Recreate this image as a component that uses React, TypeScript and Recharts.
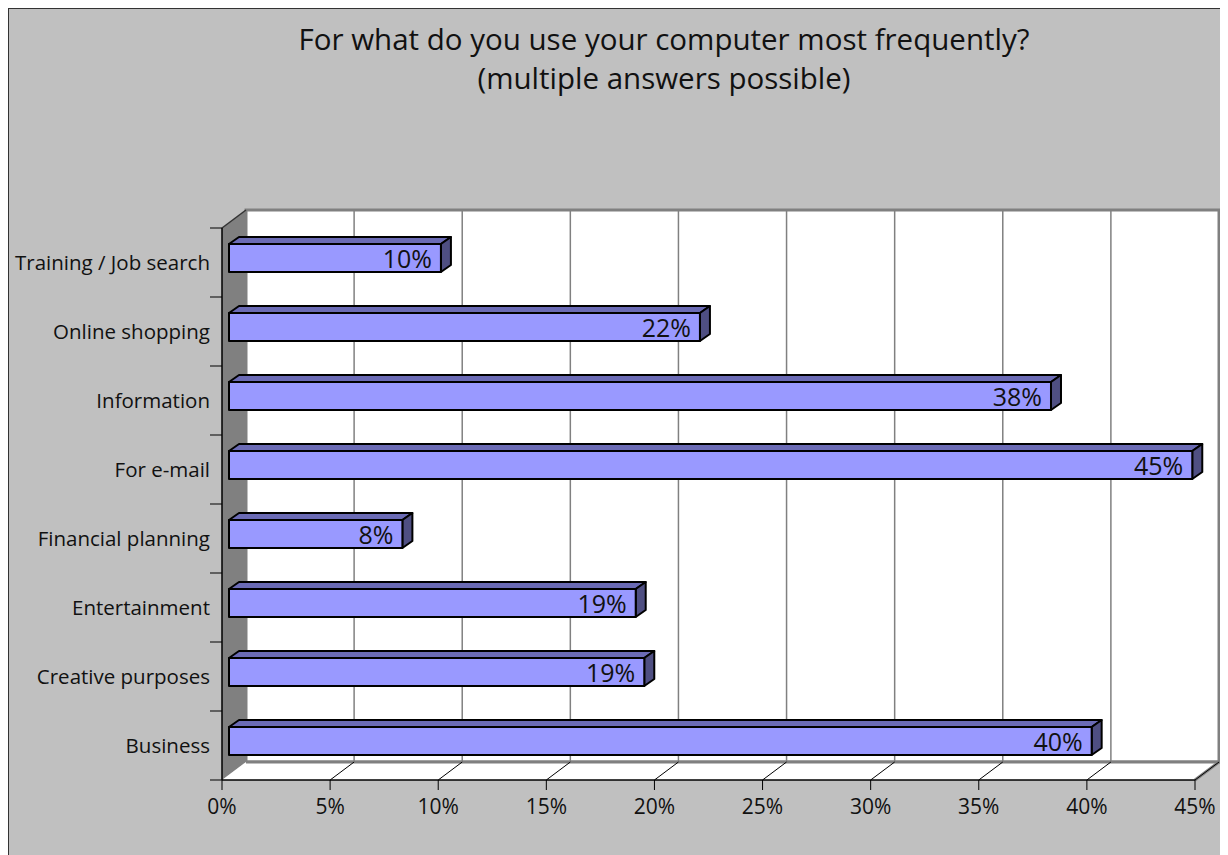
import React from "react";
import {
  BarChart,
  Bar,
  XAxis,
  YAxis,
  CartesianGrid,
  LabelList,
} from "recharts";

// top-to-bottom order as shown in the chart
const categories = [
  "Training / Job search",
  "Online shopping",
  "Information",
  "For e-mail",
  "Financial planning",
  "Entertainment",
  "Creative purposes",
  "Business",
];
const shares = [9.9, 22.0, 38.4, 45.0, 8.1, 19.0, 19.4, 40.3];
const xTicks = [0, 5, 10, 15, 20, 25, 30, 35, 40, 45];

const data = categories.map((name, i) => ({ name, value: shares[i] }));

// chart geometry
const W = 1220;
const H = 846;
const LEFT = 213;
const TOP = 219;
const RIGHT = 34;
const BOTTOM = 75;
const PLOT_B = H - BOTTOM;
const PLOT_R = W - RIGHT;
const DEPTH_X = 24;
const DEPTH_Y = 18;

// bar 3d offsets
const BAR_DX = 7;
const BAR_DY = -5;
const BAR_K = 0.99;
const TOP_DX = 10;
const TOP_DY = 7;

const FRONT = "#9999FF";
const TOPC = "#6B6BB5";
const SIDE = "#4F4F82";
const WALL = "#808080";

function Walls() {
  const band = (PLOT_B - TOP) / categories.length;
  const ticks = [];
  for (let i = 0; i <= categories.length; i++) {
    const y = TOP + band * i;
    ticks.push(<line key={i} x1={LEFT - 12} x2={LEFT} y1={y} y2={y} stroke="#000" />);
  }
  return (
    <g>
      <rect
        x={LEFT + DEPTH_X}
        y={TOP - DEPTH_Y}
        width={PLOT_R - LEFT}
        height={PLOT_B - TOP}
        fill="#fff"
        stroke={WALL}
        strokeWidth={3}
      />
      <polygon
        points={`${LEFT},${TOP} ${LEFT + DEPTH_X},${TOP - DEPTH_Y} ${LEFT + DEPTH_X},${PLOT_B - DEPTH_Y} ${LEFT},${PLOT_B}`}
        fill={WALL}
      />
      <polygon
        points={`${LEFT},${PLOT_B} ${LEFT + DEPTH_X},${PLOT_B - DEPTH_Y} ${PLOT_R + DEPTH_X},${PLOT_B - DEPTH_Y} ${PLOT_R},${PLOT_B}`}
        fill="#fff"
      />
      <line x1={LEFT + DEPTH_X} x2={PLOT_R + DEPTH_X} y1={PLOT_B - DEPTH_Y} y2={PLOT_B - DEPTH_Y} stroke={WALL} strokeWidth={3} />
      <line x1={PLOT_R + DEPTH_X} x2={PLOT_R} y1={PLOT_B - DEPTH_Y} y2={PLOT_B} stroke={WALL} strokeWidth={3} />
      <line x1={LEFT} x2={LEFT + DEPTH_X} y1={TOP} y2={TOP - DEPTH_Y} stroke="#333" strokeWidth={1.5} />
      {ticks}
    </g>
  );
}

const gridLine = (props: any) => {
  const { x1, y1, y2 } = props;
  const first = Math.abs(x1 - LEFT) < 1;
  return (
    <g key={`g-${Math.round(x1)}`}>
      {first && <Walls />}
      {!first && (
        <line x1={x1 + DEPTH_X} x2={x1 + DEPTH_X} y1={y1 - DEPTH_Y} y2={y2 - DEPTH_Y} stroke={WALL} strokeWidth={1.5} />
      )}
      {!first && <line x1={x1} x2={x1 + DEPTH_X} y1={y2} y2={y2 - DEPTH_Y} stroke="#000" strokeWidth={1} />}
    </g>
  );
};

const Bar3D = (props: any) => {
  const { x, y, width, height } = props;
  const fx = x + BAR_DX;
  const fy = y + BAR_DY;
  const fw = width * BAR_K;
  const r = fx + fw;
  return (
    <g stroke="#000" strokeWidth={2} strokeLinejoin="round">
      <polygon
        points={`${fx},${fy} ${fx + TOP_DX},${fy - TOP_DY} ${r + TOP_DX},${fy - TOP_DY} ${r},${fy}`}
        fill={TOPC}
      />
      <polygon
        points={`${r},${fy} ${r + TOP_DX},${fy - TOP_DY} ${r + TOP_DX},${fy + height - TOP_DY} ${r},${fy + height}`}
        fill={SIDE}
      />
      <rect x={fx} y={fy} width={fw} height={height} fill={FRONT} />
    </g>
  );
};

const barLabel = (props: any) => {
  const { x, y, width, height, value } = props;
  const r = x + BAR_DX + width * BAR_K;
  return (
    <text
      x={r - 9}
      y={y + BAR_DY + height / 2}
      textAnchor="end"
      dominantBaseline="central"
      fontSize={25}
      fill="#111"
    >
      {Math.round(value)}%
    </text>
  );
};

export default function App() {
  return (
    <div
      style={{
        position: "relative",
        width: W,
        height: H,
        background: "#C0C0C0",
        border: "1px solid #333",
        fontFamily: "'Open Sans', sans-serif",
      }}
    >
      <div
        style={{
          position: "absolute",
          top: 10,
          left: 100,
          width: 1110,
          textAlign: "center",
          fontSize: 29.5,
          lineHeight: "39px",
          color: "#111",
        }}
      >
        For what do you use your computer most frequently?
        <br />
        (multiple answers possible)
      </div>
      <BarChart
        width={W}
        height={H}
        data={data}
        layout="vertical"
        margin={{ top: TOP, right: RIGHT, left: 0, bottom: BOTTOM - 40 }}
        barSize={28}
      >
        <CartesianGrid horizontal={false} vertical={gridLine} />
        <XAxis
          type="number"
          domain={[0, 45]}
          ticks={xTicks}
          tickFormatter={(v) => `${v}%`}
          height={40}
          interval={0}
          tickSize={10}
          tickMargin={9}
          axisLine={{ stroke: "#000", strokeWidth: 1.5 }}
          tickLine={{ stroke: "#000" }}
          tick={{ fontSize: 21, fill: "#111" }}
        />
        <YAxis
          type="category"
          dataKey="name"
          width={LEFT}
          interval={0}
          tickLine={false}
          tickSize={10}
          tickMargin={2}
          axisLine={{ stroke: "#000", strokeWidth: 1.5 }}
          tick={{ fontSize: 20.5, fill: "#111" }}
        />
        <Bar dataKey="value" shape={Bar3D} isAnimationActive={false}>
          <LabelList dataKey="value" content={barLabel} />
        </Bar>
      </BarChart>
    </div>
  );
}
